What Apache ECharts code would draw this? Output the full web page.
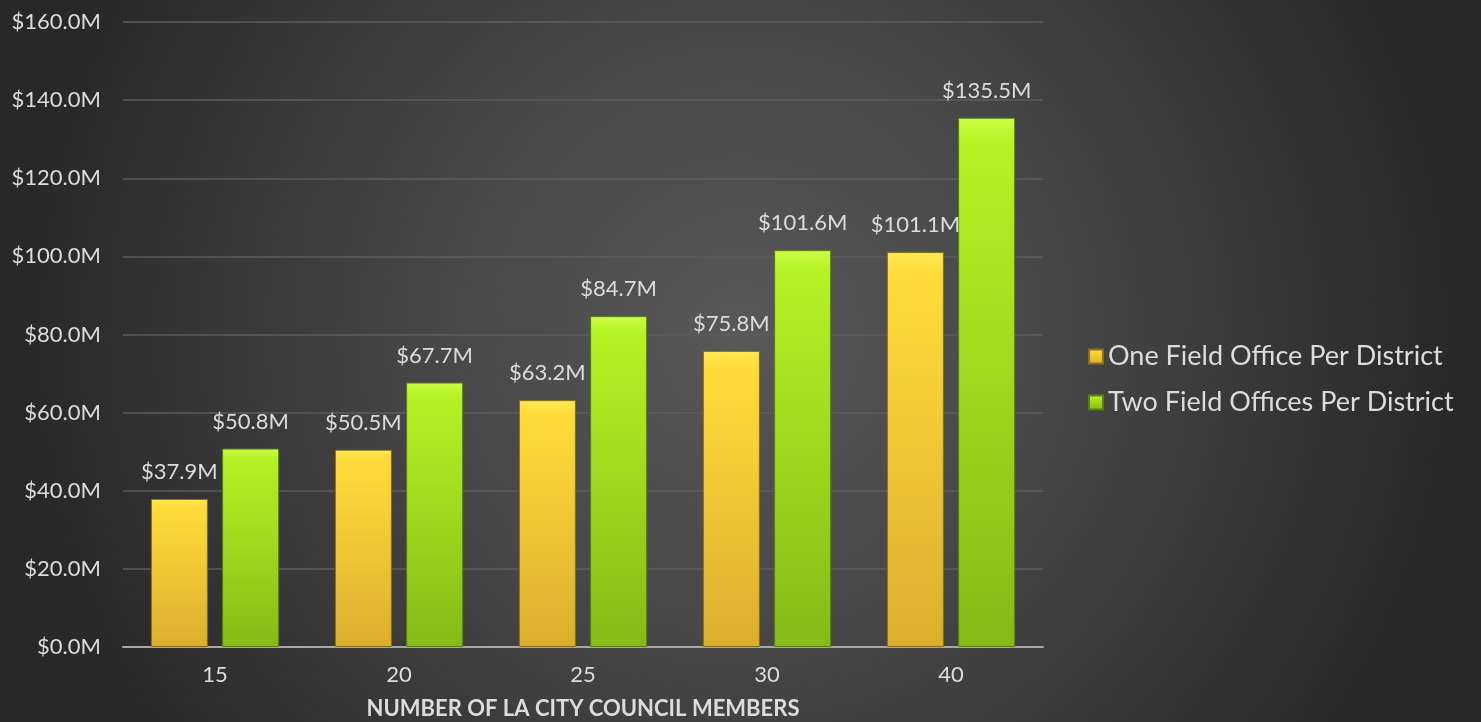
<!DOCTYPE html>
<html>
<head>
<meta charset="utf-8">
<script src="https://cdn.jsdelivr.net/npm/echarts@6/dist/echarts.min.js"></script>
<style>
  html, body { margin: 0; padding: 0; background: #2a2a2a; }
  #chart { width: 1481px; height: 722px; }
</style>
</head>
<body>
<div id="chart"></div>
<script>
const categories = ['15', '20', '25', '30', '40'];
const oneOffice = [37.9, 50.5, 63.2, 75.8, 101.1];
const twoOffices = [50.8, 67.7, 84.7, 101.6, 135.5];
const seriesNames = ['One Field Office Per District', 'Two Field Offices Per District'];

const fontFam = 'Lato, "DejaVu Sans", sans-serif';
const txt = '#dcdcdc';

// 基于准备好的dom，初始化echarts实例
const myChart = echarts.init(document.getElementById('chart'));

const money = (p) => '$' + p.value.toFixed(1) + 'M';

const option = {
  backgroundColor: {
    type: 'radial', x: 0.5, y: 0.46, r: 1.0,
    colorStops: [
      { offset: 0, color: '#585858' },
      { offset: 0.45, color: '#464646' },
      { offset: 1, color: '#282828' },
    ],
  },
  grid: {
    left: 123, right: 438, top: 22, bottom: 75,
    containLabel: false,
    outerBoundsMode: 'none',
  },
  legend: {
    orient: 'vertical',
    left: 1083,
    top: 338,
    itemWidth: 14,
    itemHeight: 14,
    itemGap: 19,
    icon: 'rect',
    textStyle: { color: txt, fontSize: 27, fontFamily: fontFam },
    data: seriesNames,
  },
  xAxis: {
    type: 'category',
    data: categories,
    name: 'NUMBER OF LA CITY COUNCIL MEMBERS',
    nameLocation: 'middle',
    nameGap: 51,
    nameTextStyle: { color: txt, fontSize: 22, fontWeight: 'bold', fontFamily: fontFam },
    axisLine: { lineStyle: { color: '#a8a8a8', width: 2 } },
    axisTick: { show: false },
    axisLabel: { color: txt, fontSize: 22, margin: 17, fontFamily: fontFam },
  },
  yAxis: {
    type: 'value',
    min: 0,
    max: 160,
    interval: 20,
    axisLine: { show: false },
    axisTick: { show: false },
    axisLabel: {
      color: txt, fontSize: 22, margin: 22, fontFamily: fontFam,
      formatter: (v) => '$' + v.toFixed(1) + 'M',
    },
    splitLine: { lineStyle: { color: '#5c5c5c', width: 1.5 } },
  },
  series: [
    {
      name: seriesNames[0],
      type: 'bar',
      data: oneOffice,
      barWidth: 57,
      barGap: '25%',
      itemStyle: {
        color: {
          type: 'linear', x: 0, y: 0, x2: 0, y2: 1,
          colorStops: [
            { offset: 0, color: '#ffea55' },
            { offset: 0.05, color: '#ffdc3a' },
            { offset: 1, color: '#dcae2e' },
          ],
        },
        borderColor: '#8a6e18',
        borderWidth: 1,
      },
      label: { show: true, position: 'top', distance: 16, color: txt, fontSize: 22, fontFamily: fontFam, formatter: money },
    },
    {
      name: seriesNames[1],
      type: 'bar',
      data: twoOffices,
      barWidth: 57,
      itemStyle: {
        color: {
          type: 'linear', x: 0, y: 0, x2: 0, y2: 1,
          colorStops: [
            { offset: 0, color: '#ccff45' },
            { offset: 0.05, color: '#b5f224' },
            { offset: 1, color: '#86ba16' },
          ],
        },
        borderColor: '#5a7e10',
        borderWidth: 1,
      },
      label: { show: true, position: 'top', distance: 16, color: txt, fontSize: 22, fontFamily: fontFam, formatter: money },
    },
  ],
};
// 绘制图表
myChart.setOption(option);
</script>
</body>
</html>
